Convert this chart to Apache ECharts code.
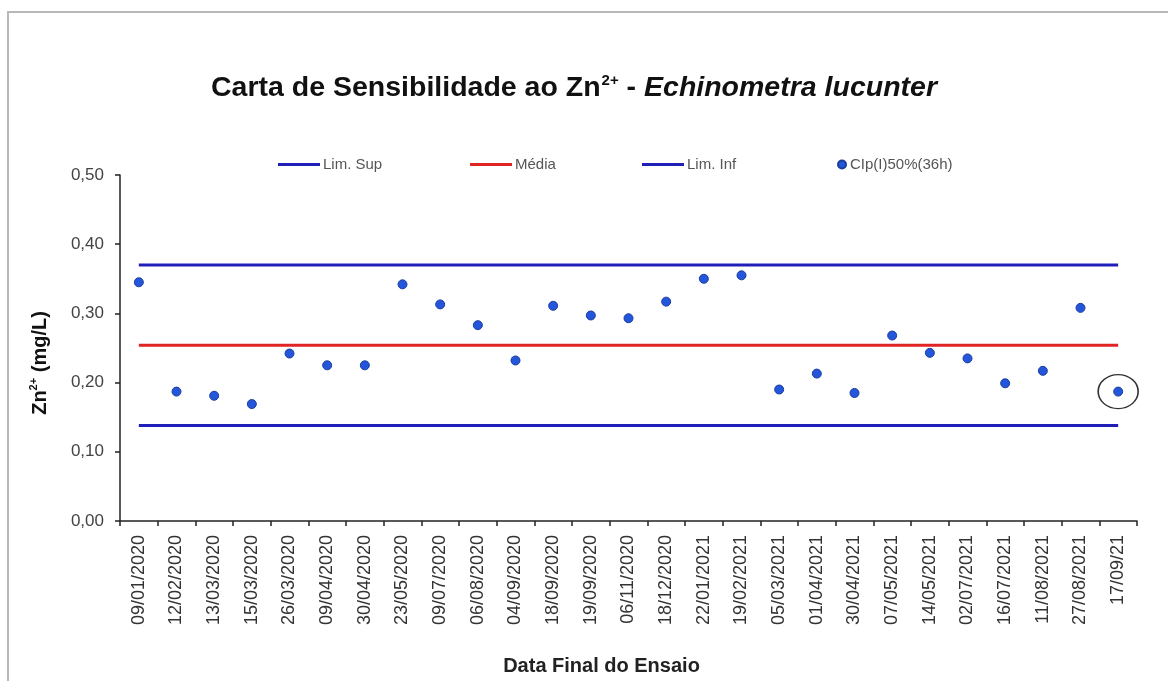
<!DOCTYPE html>
<html>
<head>
<meta charset="utf-8">
<script src="https://cdn.jsdelivr.net/npm/echarts@6/dist/echarts.min.js"></script>
<style>
  html, body { margin: 0; padding: 0; background: #fff; }
  #frame {
    position: absolute; left: 7px; top: 11px; right: 0; bottom: 0;
    border-top: 2px solid #b8b8b8; border-left: 2px solid #b8b8b8;
  }
  #container { position: absolute; left: 0; top: 0; width: 1168px; height: 681px; }
</style>
</head>
<body>
<div id="frame"></div>
<div id="container"></div>
<script>
var dom = document.getElementById("container");
var chart = echarts.init(dom);

// datas finais dos ensaios
const dates = [
    "09/01/2020", "12/02/2020", "13/03/2020", "15/03/2020", "26/03/2020",
    "09/04/2020", "30/04/2020", "23/05/2020", "09/07/2020", "06/08/2020",
    "04/09/2020", "18/09/2020", "19/09/2020", "06/11/2020", "18/12/2020",
    "22/01/2021", "19/02/2021", "05/03/2021", "01/04/2021", "30/04/2021",
    "07/05/2021", "14/05/2021", "02/07/2021", "16/07/2021", "11/08/2021",
    "27/08/2021", "17/09/21"
];

// CIp(I)50%(36h) em mg/L
const clValues = [
    0.345, 0.187, 0.181, 0.169, 0.242, 0.225, 0.225, 0.342, 0.313, 0.283,
    0.232, 0.311, 0.297, 0.293, 0.317, 0.350, 0.355, 0.190, 0.213, 0.185,
    0.268, 0.243, 0.235, 0.199, 0.217, 0.308, 0.187
];

const limSup = 0.370;
const mediaVal = 0.254;
const limInf = 0.138;

const limSupValues = dates.map(function () { return limSup; });
const mediaValues = dates.map(function () { return mediaVal; });
const limInfValues = dates.map(function () { return limInf; });

const font = "'Liberation Sans', Arial, sans-serif";
const last = dates.length - 1;

function legendAt(name, left, icon, w, h) {
    return {
        data: [{ name: name, icon: icon }],
        left: left,
        top: 152,
        itemWidth: w,
        itemHeight: h,
        itemGap: 0,
        selectedMode: false,
        textStyle: { fontFamily: font, fontSize: 15, color: "#555", padding: [0, 0, 0, -2] }
    };
}

var option = {
    animation: false,
    title: {
        left: 206,
        top: 66,
        text: "{b|Carta de Sensibilidade ao Zn}{s|2+}{b| - }{i|Echinometra lucunter}",
        textStyle: {
            rich: {
                b: { fontFamily: font, fontSize: 28.5, fontWeight: "bold", color: "#111", lineHeight: 34 },
                s: { fontFamily: font, fontSize: 15, fontWeight: "bold", color: "#111", lineHeight: 15, verticalAlign: "top", padding: [2, 0, 0, 1] },
                i: { fontFamily: font, fontSize: 28.5, fontWeight: "bold", fontStyle: "italic", color: "#111", lineHeight: 34 }
            }
        }
    },
    legend: [
        legendAt("Lim. Sup", 273, "rect", 42, 3),
        legendAt("Média", 465, "rect", 42, 3),
        legendAt("Lim. Inf", 637, "rect", 42, 3),
        legendAt("CIp(I)50%(36h)", 832, "circle", 10, 8)
    ],
    grid: {
        left: 120,
        right: 31,
        top: 175,
        bottom: 160,
        outerBoundsMode: "none",
        containLabel: false
    },
    xAxis: {
        type: "category",
        data: dates,
        boundaryGap: true,
        name: "Data Final do Ensaio",
        nameLocation: "middle",
        nameGap: 135,
        nameTextStyle: { fontFamily: font, fontSize: 20, fontWeight: "bold", color: "#222", padding: [0, 54, 0, 0] },
        axisLine: { lineStyle: { color: "#222", width: 1.5 } },
        axisTick: { show: true, length: 5, alignWithLabel: false, lineStyle: { color: "#222", width: 1.5 } },
        axisLabel: {
            rotate: 90,
            interval: 0,
            margin: 14,
            fontFamily: font,
            fontSize: 18,
            color: "#333"
        },
        splitLine: { show: false }
    },
    yAxis: {
        type: "value",
        min: 0,
        max: 0.5,
        interval: 0.1,
        name: "{b|Zn}{s|2+}{b| (mg/L)}",
        nameLocation: "middle",
        nameRotate: 90,
        nameGap: 68,
        nameTextStyle: {
            padding: [0, 30, 0, 0],
            rich: {
                b: { fontFamily: font, fontSize: 20, fontWeight: "bold", color: "#111", lineHeight: 24 },
                s: { fontFamily: font, fontSize: 11, fontWeight: "bold", color: "#111", lineHeight: 11, verticalAlign: "top" }
            }
        },
        axisLine: { show: true, lineStyle: { color: "#222", width: 1.5 } },
        axisTick: { show: true, length: 5, lineStyle: { color: "#222", width: 1.5 } },
        axisLabel: {
            margin: 16,
            fontFamily: font,
            fontSize: 17,
            color: "#444",
            formatter: function (v) {
                return v.toFixed(2).replace(".", ",");
            }
        },
        splitLine: { show: false }
    },
    series: [
        {
            name: "Lim. Sup",
            type: "line",
            data: limSupValues,
            symbol: "none",
            silent: true,
            lineStyle: { color: "#2020b8", width: 3 },
            itemStyle: { color: "#2020b8" }
        },
        {
            name: "Média",
            type: "line",
            data: mediaValues,
            symbol: "none",
            silent: true,
            lineStyle: { color: "#e02424", width: 3 },
            itemStyle: { color: "#e02424" }
        },
        {
            name: "Lim. Inf",
            type: "line",
            data: limInfValues,
            symbol: "none",
            silent: true,
            lineStyle: { color: "#2020b8", width: 3 },
            itemStyle: { color: "#2020b8" }
        },
        {
            name: "CIp(I)50%(36h)",
            type: "scatter",
            data: clValues,
            symbol: "circle",
            symbolSize: 9,
            z: 5,
            itemStyle: { color: "#2456dc", borderColor: "#1a3c9c", borderWidth: 1, opacity: 1 },
            markPoint: {
                silent: true,
                symbol: "circle",
                symbolSize: [40, 34],
                label: { show: false },
                itemStyle: { color: "rgba(0,0,0,0)", borderColor: "#333", borderWidth: 1.5 },
                data: [{ coord: [dates[last], clValues[last]] }]
            }
        }
    ]
};

chart.setOption(option);
</script>
</body>
</html>
